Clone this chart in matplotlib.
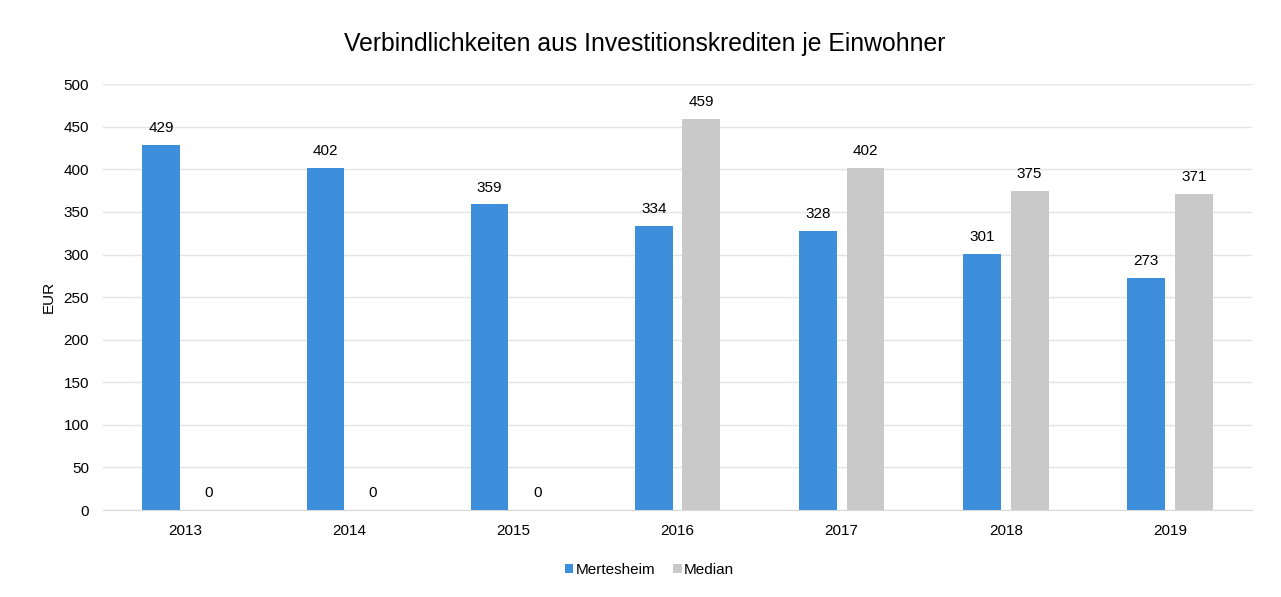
import matplotlib
matplotlib.use("Agg")
import matplotlib.pyplot as plt
import numpy as np

plt.rcParams['font.family'] = ['Liberation Sans', 'DejaVu Sans']

years = ["2013", "2014", "2015", "2016", "2017", "2018", "2019"]
mertesheim = [429, 402, 359, 334, 328, 301, 273]
median = [0, 0, 0, 459, 402, 375, 371]

fig = plt.figure(figsize=(12.81, 5.97), dpi=100)
ax = fig.add_axes([0.0804, 0.1457, 0.8970, 0.7133])

x = np.arange(len(years))
w = 0.23
off = 0.145
blue = "#3d8edb"
gray = "#c9c9c9"
fs = 11
b1 = ax.bar(x - off, mertesheim, w, color=blue, label="Mertesheim", zorder=3)
b2 = ax.bar(x + off, median, w, color=gray, label="Median", zorder=3)

for rect, v in zip(b1, mertesheim):
    ax.annotate(str(v), (rect.get_x() + rect.get_width() / 2, v), xytext=(0, 7),
                textcoords="offset points", ha="center", va="bottom", fontsize=fs)
for rect, v in zip(b2, median):
    ax.annotate(str(v), (rect.get_x() + rect.get_width() / 2, v), xytext=(0, 7),
                textcoords="offset points", ha="center", va="bottom", fontsize=fs)

ax.set_xlim(-0.5, len(years) - 0.5)
ax.set_ylim(0, 500)
ax.set_yticks(np.arange(0, 501, 50))
ax.set_xticks(x)
ax.set_xticklabels(years)
ax.tick_params(axis="both", length=0, labelsize=fs, pad=10)
ax.grid(axis="y", color="#e4e4e4", linewidth=1, zorder=0)
for s in ["top", "right", "left"]:
    ax.spines[s].set_visible(False)
ax.spines["bottom"].set_color("#d9d9d9")
ax.set_ylabel("EUR", fontsize=fs, labelpad=6)

fig.suptitle("Verbindlichkeiten aus Investitionskrediten je Einwohner", fontsize=17.8,
             x=0.503, y=0.947)
fig.legend(loc="center", bbox_to_anchor=(0.507, 0.045), ncol=2, frameon=False,
           fontsize=fs, handlelength=0.55, handleheight=0.55, columnspacing=1.2,
           handletextpad=0.15)

fig.savefig("out.png", dpi=100)
